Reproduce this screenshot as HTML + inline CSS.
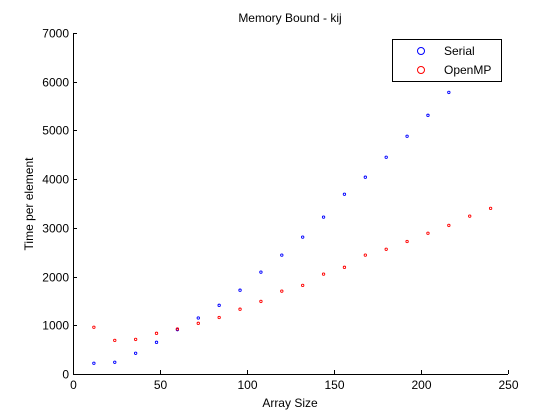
<!DOCTYPE html>
<html><head><meta charset="utf-8"><style>
body{margin:0;background:#fff;}
svg{display:block;font-family:"Liberation Sans",Arial,sans-serif;}
</style></head><body>
<svg id="chart" width="560" height="420" viewBox="0 0 560 420" xmlns="http://www.w3.org/2000/svg">
<rect x="0" y="0" width="560" height="420" fill="#fff"/>
<text x="290" y="22" font-size="12" text-anchor="middle">Memory Bound - kij</text>
<g id="axes"></g>
<g id="marks"></g>
<text x="290" y="407" font-size="12" text-anchor="middle">Array Size</text>
<text transform="translate(33,204) rotate(-90)" font-size="12" text-anchor="middle">Time per element</text>
<g>
<rect x="392.5" y="39.5" width="109" height="42" fill="#fff" stroke="#000" stroke-width="1"/>
<circle cx="421" cy="51" r="3.5" fill="none" stroke="#00f"/>
<text x="444" y="55" font-size="12">Serial</text>
<circle cx="421" cy="70" r="3.5" fill="none" stroke="#f00"/>
<text x="444" y="74" font-size="12">OpenMP</text>
</g>
</svg>
<script>
const serialX = [12,24,36,48,60,72,84,96,108,120,132,144,156,168,180,192,204,216];
const serialY = [220,240,425,650,910,1150,1410,1720,2090,2440,2810,3220,3690,4040,4450,4880,5310,5780];
const ompX = [12,24,36,48,60,72,84,96,108,120,132,144,156,168,180,192,204,216,228,240];
const ompY = [960,690,710,835,924,1040,1160,1330,1490,1700,1820,2050,2190,2440,2560,2720,2890,3050,3240,3400];
const xTicks = [0,50,100,150,200,250];
const yTicks = [0,1000,2000,3000,4000,5000,6000,7000];

const X0=73, X1=508, Y0=374, Y1=33;
function sx(v){return X0+(v-0)/250*(X1-X0);}
function sy(v){return Y0-(v-0)/7000*(Y0-Y1);}
const NS="http://www.w3.org/2000/svg";
const axes=document.getElementById('axes');
const marks=document.getElementById('marks');
function mk(tag,attrs,parent){const e=document.createElementNS(NS,tag);for(const k in attrs)e.setAttribute(k,attrs[k]);parent.appendChild(e);return e;}

const frame=mk('path',{d:`M${X0+0.5},${Y1} V${Y0+0.5} H${X1}`,fill:'none',stroke:'#000','stroke-width':1},axes);


xTicks.forEach(t=>{
  const x=Math.round(sx(t))+0.5;
  const l=mk('line',{x1:x,x2:x,y1:Y0,y2:Y0-4,stroke:'#000'},axes);
  
  
  const tx=mk('text',{x:x,y:Y0+15,'font-size':12,'text-anchor':'middle'},axes);
  tx.textContent=t;
  
  
});
yTicks.forEach(t=>{
  const y=Math.round(sy(t))+0.5;
  const l=mk('line',{x1:X0,x2:X0+4,y1:y,y2:y,stroke:'#000'},axes);
  
  
  const tx=mk('text',{x:X0-4,y:y+4,'font-size':12,'text-anchor':'end'},axes);
  tx.textContent=t;
  
  
});
function series(xs,ys,color,name){
  xs.forEach((xv,i)=>{
    const c=mk('circle',{cx:sx(xv),cy:sy(ys[i]),r:1.2,fill:'none',stroke:color,'stroke-width':0.9},marks);
    
    
  });
}
series(serialX,serialY,'#00f','serial-point');
series(ompX,ompY,'#f00','openmp-point');
</script>
</body></html>
